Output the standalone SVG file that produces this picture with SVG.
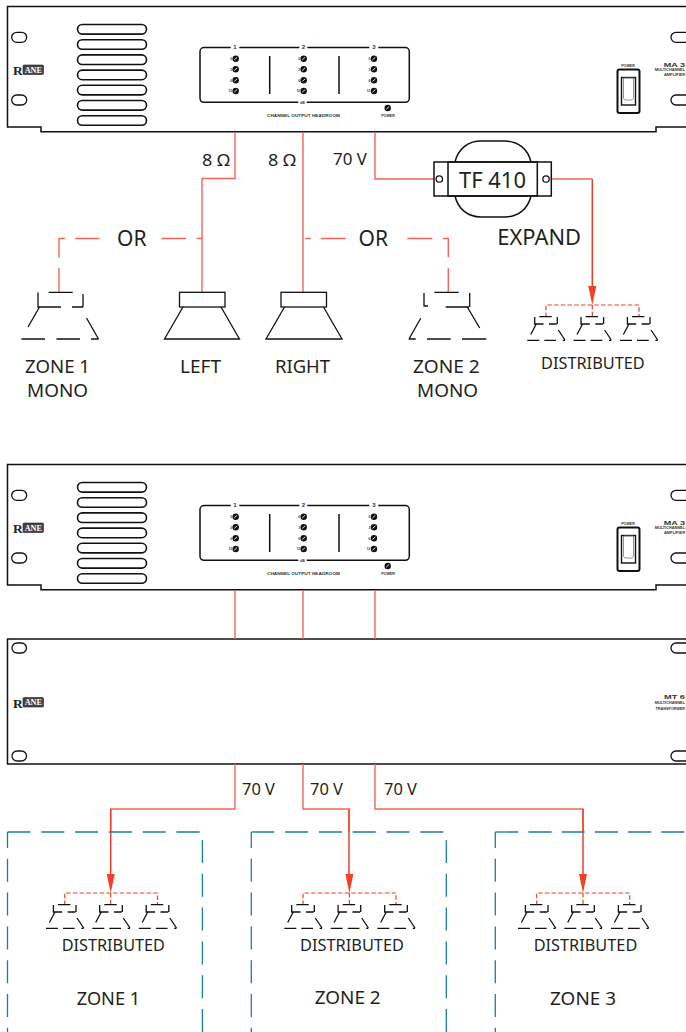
<svg xmlns="http://www.w3.org/2000/svg" xmlns:xlink="http://www.w3.org/1999/xlink" width="686" height="1032" viewBox="0 0 686 1032">
<style>
.t{font-family:"Noto Sans","Open Sans",sans-serif;fill:#231f20}
.o{fill:none;stroke:#111;stroke-width:1.5}
.p{fill:none;stroke:#111;stroke-width:1.5}
.h{fill:#fff;stroke:#111;stroke-width:1.3}
.v{fill:none;stroke:#111;stroke-width:1.6}
.s{fill:none;stroke:#111;stroke-width:1.3}
.w{fill:none;stroke:#f4665a;stroke-width:1.4}
.a{fill:none;stroke:#f33f28;stroke-width:1.5}
.d{fill:none;stroke:#f33f28;stroke-width:1.2;stroke-dasharray:4.5 2.2}
.z{fill:none;stroke:#1a7ba8;stroke-width:1.3;stroke-dasharray:23 10.8}
.m{font-family:"Liberation Sans",Arial,sans-serif;font-weight:700;fill:#333}
.r{font-family:"Liberation Serif",serif;font-weight:700}
</style>
<defs>
<g id="vent"><rect x="77.5" y="24.5" width="69" height="9.6" rx="4.8"/><rect x="77.5" y="39.7" width="69" height="9.6" rx="4.8"/><rect x="77.5" y="54.9" width="69" height="9.6" rx="4.8"/><rect x="77.5" y="70.1" width="69" height="9.6" rx="4.8"/><rect x="77.5" y="85.3" width="69" height="9.6" rx="4.8"/><rect x="77.5" y="100.5" width="69" height="9.6" rx="4.8"/><rect x="77.5" y="115.7" width="69" height="9.6" rx="4.8"/></g>
<g id="led"><circle r="3.2" fill="#111"/><path d="M-1.5 1.2L1.4-1.4" stroke="#fff" stroke-width="0.9"/></g>
<g id="col"><use xlink:href="#led" y="58.7"/><use xlink:href="#led" y="69.3"/><use xlink:href="#led" y="80.3"/><use xlink:href="#led" y="91"/></g>
<g id="panel"><path class="p" d="M230.700 47.500H204a4 4 0 0 0-4 4V98.300a4 4 0 0 0 4 4H298.300M306.700 102.300H405.300a4 4 0 0 0 4-4V51.500a4 4 0 0 0-4-4H378.300M369.300 47.500H307.300M299.300 47.500H239.300M269.700 56V94M339 56V94"/><use xlink:href="#col" x="235.700"/><use xlink:href="#col" x="303.700"/><use xlink:href="#col" x="374"/><use xlink:href="#led" x="387.700" y="108"/></g>
<g id="switch"><rect x="617.500" y="69.500" width="22" height="43.500" rx="2" fill="none" stroke="#111" stroke-width="2"/><rect x="621.500" y="77.500" width="14" height="27.500" fill="none" stroke="#111" stroke-width="1.400"/><path d="M623.500 78V98.500L625 100H632L633.500 98.500V78Z" fill="none" stroke="#777" stroke-width="0.800"/></g>
<g id="sp" class="s"><path d="M-6.700-.3H5.700M-11.300 0V7H-2.500M3 7H10.700M11.300 0V7M-10 7.500L-15.300 17.500M12.300 13L19 23M-18.700 23.300H-6.700M-1.700 23.300H10M16.700 23.300H19"/></g>
</defs>

<g id="amp-1">
<path class="o" d="M686 127H656V131.700H41V127H7.500V6.500H686"/>
<rect class="h" x="11.700" y="32.300" width="15" height="10" rx="5"/><rect class="h" x="11.700" y="95" width="15" height="10" rx="5"/>
<path class="h" d="M686 32.300H676a5 5 0 0 0 0 10H686"/><path class="h" d="M686 95H676a5 5 0 0 0 0 10H686"/>
<use xlink:href="#vent" class="v"/>
<text class="r" x="13" y="75" font-size="13.500" fill="#222">R</text><rect x="23" y="65" width="20.500" height="9.500" rx="1" fill="#444" stroke="#222" stroke-width=".6"/><text class="r" x="33.300" y="72.800" font-size="8.200" fill="#fff" text-anchor="middle">ANE</text>
<use xlink:href="#panel"/><use xlink:href="#switch"/>
<g class="m" font-size="6" text-anchor="middle"><text x="235" y="49">1</text><text x="303.500" y="49">2</text><text x="374" y="49">3</text></g>
<g class="m" font-size="3.200" text-anchor="end"><text x="232" y="60">0</text><text x="232" y="70.500">3</text><text x="232" y="81.500">6</text><text x="232" y="92.200">12</text><text x="300" y="60">0</text><text x="300" y="70.500">3</text><text x="300" y="81.500">6</text><text x="300" y="92.200">12</text><text x="370.300" y="60">0</text><text x="370.300" y="70.500">3</text><text x="370.300" y="81.500">6</text><text x="370.300" y="92.200">12</text></g>
<g class="m" font-size="3.600" text-anchor="middle"><text x="302.500" y="103.500">dB</text><text x="303.500" y="116.500" textLength="73" lengthAdjust="spacingAndGlyphs">CHANNEL OUTPUT HEADROOM</text><text x="388" y="116.800">POWER</text><text x="628" y="67">POWER</text></g>
<g class="m"><text x="663.700" y="67" font-size="6" textLength="21.300" lengthAdjust="spacingAndGlyphs">MA 3</text><text x="654.700" y="71" font-size="3.400" textLength="30.300" lengthAdjust="spacingAndGlyphs">MULTICHANNEL</text><text x="664" y="76" font-size="3.400" textLength="21" lengthAdjust="spacingAndGlyphs">AMPLIFIER</text></g>
</g>

<g id="amp-2" >
<g transform="translate(0 458)">
<path class="o" d="M686 127H656V131.700H41V127H7.500V6.500H686"/>
<rect class="h" x="11.700" y="32.300" width="15" height="10" rx="5"/><rect class="h" x="11.700" y="95" width="15" height="10" rx="5"/>
<path class="h" d="M686 32.300H676a5 5 0 0 0 0 10H686"/><path class="h" d="M686 95H676a5 5 0 0 0 0 10H686"/>
<use xlink:href="#vent" class="v"/>
<text class="r" x="13" y="75" font-size="13.500" fill="#222">R</text><rect x="23" y="65" width="20.500" height="9.500" rx="1" fill="#444" stroke="#222" stroke-width=".6"/><text class="r" x="33.300" y="72.800" font-size="8.200" fill="#fff" text-anchor="middle">ANE</text>
<use xlink:href="#panel"/><use xlink:href="#switch"/>
<g class="m" font-size="6" text-anchor="middle"><text x="235" y="49">1</text><text x="303.500" y="49">2</text><text x="374" y="49">3</text></g>
<g class="m" font-size="3.200" text-anchor="end"><text x="232" y="60">0</text><text x="232" y="70.500">3</text><text x="232" y="81.500">6</text><text x="232" y="92.200">12</text><text x="300" y="60">0</text><text x="300" y="70.500">3</text><text x="300" y="81.500">6</text><text x="300" y="92.200">12</text><text x="370.300" y="60">0</text><text x="370.300" y="70.500">3</text><text x="370.300" y="81.500">6</text><text x="370.300" y="92.200">12</text></g>
<g class="m" font-size="3.600" text-anchor="middle"><text x="302.500" y="103.500">dB</text><text x="303.500" y="116.500" textLength="73" lengthAdjust="spacingAndGlyphs">CHANNEL OUTPUT HEADROOM</text><text x="388" y="116.800">POWER</text><text x="628" y="67">POWER</text></g>
<g class="m"><text x="663.700" y="67" font-size="6" textLength="21.300" lengthAdjust="spacingAndGlyphs">MA 3</text><text x="654.700" y="71" font-size="3.400" textLength="30.300" lengthAdjust="spacingAndGlyphs">MULTICHANNEL</text><text x="664" y="76" font-size="3.400" textLength="21" lengthAdjust="spacingAndGlyphs">AMPLIFIER</text></g>
</g>
</g>

<g id="mt6">
<path class="o" d="M686 639H7.500V764H686"/>
<rect class="h" x="12" y="643" width="14.500" height="10" rx="5"/><rect class="h" x="12" y="751" width="14.500" height="10" rx="5"/>
<path class="h" d="M686 643H676a5 5 0 0 0 0 10H686"/><path class="h" d="M686 751H676a5 5 0 0 0 0 10H686"/>
<text class="r" x="13" y="707.500" font-size="13.500" fill="#222">R</text><rect x="23" y="697.500" width="20.500" height="9.500" rx="1" fill="#444" stroke="#222" stroke-width=".6"/><text class="r" x="33.300" y="705.300" font-size="8.200" fill="#fff" text-anchor="middle">ANE</text>
<g class="m"><text x="664" y="699" font-size="6" textLength="21" lengthAdjust="spacingAndGlyphs">MT 6</text><text x="654.700" y="704" font-size="3.400" textLength="30.300" lengthAdjust="spacingAndGlyphs">MULTICHANNEL</text><text x="655.500" y="709.500" font-size="3.400" textLength="29.500" lengthAdjust="spacingAndGlyphs">TRANSFORMER</text></g>
</g>

<g id="connectors">
<path class="w" d="M235 132V178.500H202V292M303 132V292M375 132V179H434M235 590V639M303 590V639M375 590V639"/>
<path class="w" d="M59 292V268M59 257.700V238.500H65M75 238.500H99.300M161.700 238.500H186M196.700 238.500H202M305 238.500H310.700M321 238.500H345.700M407.300 238.500H432.300M443 238.500H448.300V257.300M448.300 268.300V292"/>
<path class="w" d="M551 179H592.300M235 764V809H110.700V832M303 764V809H349V832M375 764V809H583V832"/>
<path class="a" d="M592.300 179V290M110.700 809V878M349 809V878M583 809V878"/>
<path class="d" d="M546 317V305H639V317M592.300 305V317M64.700 905V893H157.500V905M110.700 893V905M303 905V893H396V905M349.400 893V905M536.700 905V893H629.700V905M583 893V905"/>
<g fill="#f33f28"><path d="M588.300 286H596.300L592.300 305ZM106.700 874H114.700L110.700 893ZM345.400 874H353.400L349.400 893ZM579 874H587L583 893Z"/></g>
</g>

<g id="tf410">
<path class="o" d="M455 162C458 149 468 141 481 141H505C518 141 528 149 531 162M455 196C458 209 468 217 481 217H505C518 217 528 209 531 196" stroke-width="1.200"/>
<rect class="o" x="434" y="162" width="117.300" height="34"/><rect class="o" x="448" y="162" width="89.300" height="34"/>
<circle class="h" cx="439.300" cy="179" r="3.200"/><circle class="h" cx="546" cy="179" r="3.200"/>
<text class="t" x="492.500" y="187.500" font-size="21" text-anchor="middle" textLength="67" lengthAdjust="spacingAndGlyphs">TF 410</text>
</g>

<g id="speaker-zone1" class="s"><path d="M48.700 292.300H72.700M38 292.600V307H61M72 307H83M83 294V307M39.500 307L28 327M86.500 318L98.500 339M21.500 339H45M56.500 339H80M91 339H98.500"/></g>
<g id="speaker-left" class="s"><rect x="179.500" y="292.300" width="45.500" height="14.700"/><path d="M183 307L164.500 339H239.500L221 307"/></g>
<g id="speaker-right" class="s"><rect x="281" y="292.300" width="45.500" height="14.700"/><path d="M284.500 307L266 339H342L323.500 307"/></g>
<g id="speaker-zone2" class="s"><path d="M434.300 292.300H458.700M424 293V306H428M445.700 307H469M469.700 293V307M467.300 307L479.700 328M420.700 318.300L409 339M408.700 339H415.700M427 339H450.700M462 339H486.300"/></g>
<g id="distributed-top"><use xlink:href="#sp" transform="translate(546 317)"/><use xlink:href="#sp" transform="translate(592.300 317)"/><use xlink:href="#sp" transform="translate(638.700 317)"/></g>
<g id="distributed-1"><use xlink:href="#sp" transform="translate(64.700 905)"/><use xlink:href="#sp" transform="translate(111 905)"/><use xlink:href="#sp" transform="translate(157.500 905)"/></g>
<g id="distributed-2"><use xlink:href="#sp" transform="translate(303 905)"/><use xlink:href="#sp" transform="translate(349.400 905)"/><use xlink:href="#sp" transform="translate(396 905)"/></g>
<g id="distributed-3"><use xlink:href="#sp" transform="translate(536.700 905)"/><use xlink:href="#sp" transform="translate(583 905)"/><use xlink:href="#sp" transform="translate(629.700 905)"/></g>

<g id="zone-1"><path class="z" d="M7.500 832H200"/><path class="z" stroke-dashoffset="7" d="M7.500 832V1032"/><path class="z" d="M202.400 840V1032"/></g>
<g id="zone-2"><path class="z" d="M251.300 832H444"/><path class="z" stroke-dashoffset="7" d="M251.300 832V1032"/><path class="z" d="M446.300 840V1032"/></g>
<g id="zone-3"><path class="z" style="stroke-dasharray:23 10.200" d="M495.300 832H686"/><path class="z" stroke-dashoffset="7" d="M495.300 832V1032"/></g>

<g id="labels" class="t">
<g font-size="16"><text x="202" y="165.500" textLength="28" lengthAdjust="spacingAndGlyphs">8 Ω</text><text x="268" y="165.500" textLength="28" lengthAdjust="spacingAndGlyphs">8 Ω</text><text x="333" y="165" textLength="34" lengthAdjust="spacingAndGlyphs">70 V</text><text x="242" y="795" textLength="33" lengthAdjust="spacingAndGlyphs">70 V</text><text x="310" y="795" textLength="33" lengthAdjust="spacingAndGlyphs">70 V</text><text x="384" y="795" textLength="33" lengthAdjust="spacingAndGlyphs">70 V</text></g>
<g font-size="21"><text x="117" y="246">OR</text><text x="358.500" y="246">OR</text><text x="497.300" y="245" textLength="83.700" lengthAdjust="spacingAndGlyphs">EXPAND</text></g>
<g font-size="18"><text x="25" y="372.700" textLength="65" lengthAdjust="spacingAndGlyphs">ZONE 1</text><text x="27" y="397" textLength="61" lengthAdjust="spacingAndGlyphs">MONO</text><text x="180" y="372.700" textLength="41" lengthAdjust="spacingAndGlyphs">LEFT</text><text x="275" y="372.700" textLength="55" lengthAdjust="spacingAndGlyphs">RIGHT</text><text x="413" y="372.700" textLength="66.700" lengthAdjust="spacingAndGlyphs">ZONE 2</text><text x="417" y="397" textLength="61" lengthAdjust="spacingAndGlyphs">MONO</text>
<text x="76.700" y="1005" textLength="63.500" lengthAdjust="spacingAndGlyphs">ZONE 1</text><text x="314.700" y="1004" textLength="66" lengthAdjust="spacingAndGlyphs">ZONE 2</text><text x="550" y="1005" textLength="66" lengthAdjust="spacingAndGlyphs">ZONE 3</text></g>
<g font-size="16.500"><text x="541" y="369" textLength="103.700" lengthAdjust="spacingAndGlyphs">DISTRIBUTED</text><text x="61.700" y="951" textLength="103.300" lengthAdjust="spacingAndGlyphs">DISTRIBUTED</text><text x="300" y="951" textLength="104" lengthAdjust="spacingAndGlyphs">DISTRIBUTED</text><text x="533.700" y="951" textLength="103.600" lengthAdjust="spacingAndGlyphs">DISTRIBUTED</text></g>
</g>
</svg>
